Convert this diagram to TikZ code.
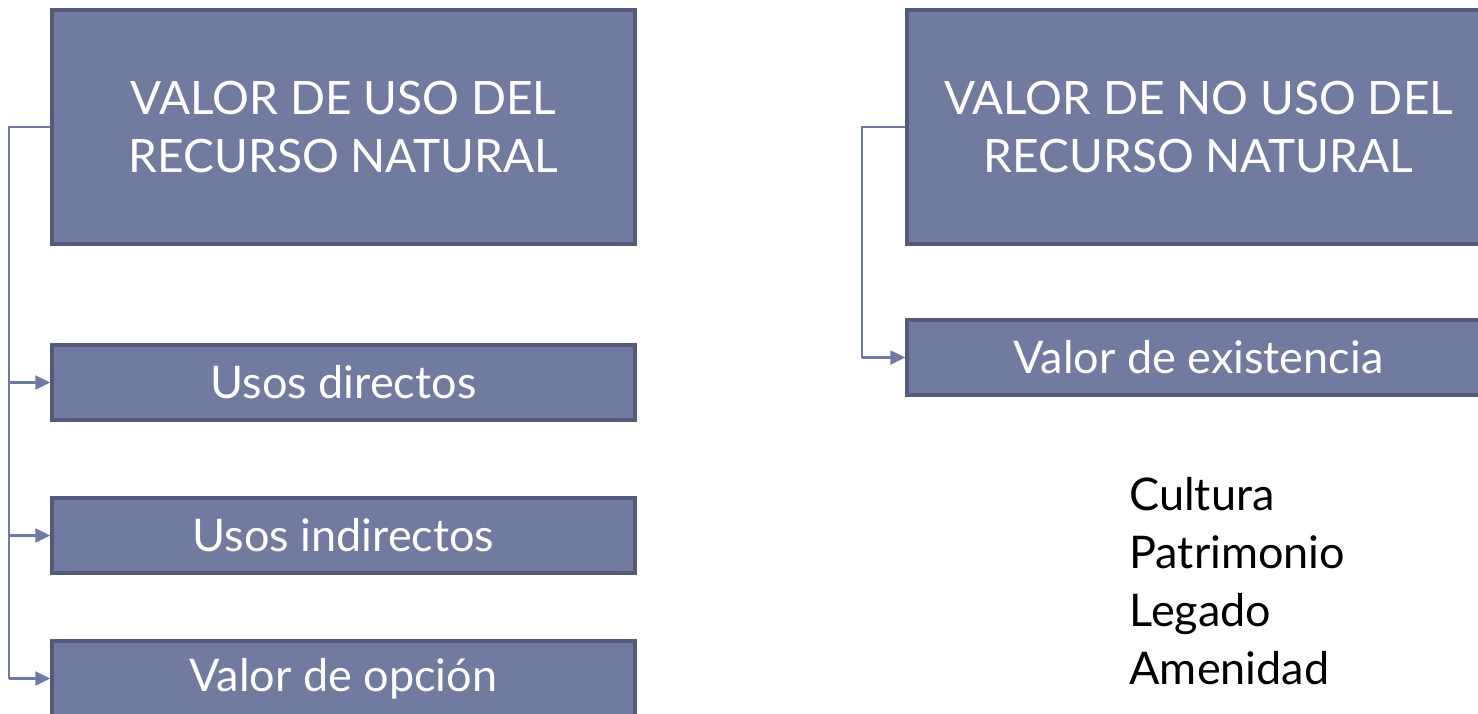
\documentclass[tikz,border=0pt]{standalone}
\usepackage{fontspec}
\setmainfont{Lato}
\usetikzlibrary{arrows.meta}
\definecolor{boxfill}{HTML}{717BA0}
\definecolor{boxline}{HTML}{545B7A}
\definecolor{linkline}{HTML}{7079A3}
\tikzset{
  bigbox/.style={rectangle,fill=boxfill,draw=boxline,line width=3.5pt,minimum width=583pt,minimum height=234pt,text=white,align=center,font=\fontsize{46}{58}\selectfont},
  smallbox/.style={rectangle,fill=boxfill,draw=boxline,line width=3.5pt,minimum width=583pt,minimum height=75pt,text=white,font=\fontsize{45}{54}\selectfont},
  link/.style={draw=linkline,line width=2.5pt},
  linkarrow/.style={link,-{Triangle[length=15pt,width=14pt]}}
}
\begin{document}
\begin{tikzpicture}[x=1pt,y=-1pt]
	\useasboundingbox (0,0) rectangle (1478,714);
	\clip (0,0) rectangle (1478,714);
	% left column
	\node[bigbox] (uso) at (343.5,127) {VALOR DE USO DEL\\RECURSO NATURAL};
	\node[smallbox] (directos) at (343.5,382.5) {Usos directos};
	\node[smallbox] (indirectos) at (343.5,535.5) {Usos indirectos};
	\node[smallbox] (opcion) at (343.5,678.5) {Valor de opción};
	\coordinate (trunkL) at (9,127);
	\draw[link] (uso.west) -- (trunkL) -- (trunkL |- opcion.west);
	\draw[linkarrow] (trunkL |- directos.west) -- (directos.west);
	\draw[linkarrow] (trunkL |- indirectos.west) -- (indirectos.west);
	\draw[linkarrow] (trunkL |- opcion.west) -- (opcion.west);
	% right column
	\node[bigbox] (nouso) at (1198.5,127) {VALOR DE NO USO DEL\\RECURSO NATURAL};
	\node[smallbox] (existencia) at (1198.5,357.5) {Valor de existencia};
	\coordinate (trunkR) at (862,127);
	\draw[link] (nouso.west) -- (trunkR) -- (trunkR |- existencia.west);
	\draw[linkarrow] (trunkR |- existencia.west) -- (existencia.west);
	\node[anchor=north west,align=left,font=\fontsize{45}{58}\selectfont] (lista) at (1126,474)
	  {Cultura\\Patrimonio\\Legado\\Amenidad};
\end{tikzpicture}
\end{document}
